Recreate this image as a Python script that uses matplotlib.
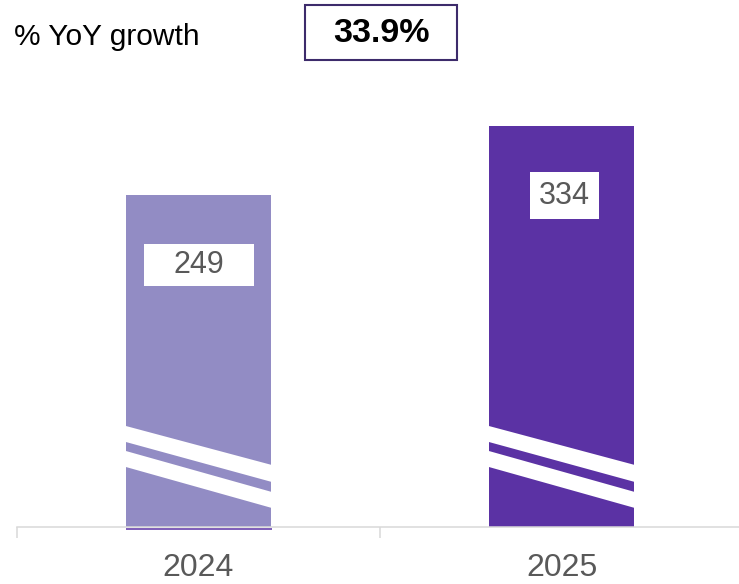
import matplotlib
matplotlib.use("Agg")
import matplotlib.pyplot as plt
import matplotlib.transforms as mtransforms
from matplotlib.patches import Polygon, Rectangle
import numpy as np

plt.rcParams["font.family"] = ["Liberation Sans", "DejaVu Sans"]

# Data
years = ["2024", "2025"]
values = [249, 334]
value_labels = ["249", "334"]
growth_label = "% YoY growth"
growth_value = "33.9%"

# Styling
bar_colors = ["#928cc4", "#5b32a4"]
label_box_sizes = [(1.10, 0.42), (0.69, 0.47)]  # inches (w, h)
axis_floor = -160          # broken axis: bars start below zero
axis_top = 366
grey = "#d9d9d9"
text_grey = "#595959"

fig = plt.figure(figsize=(7.39, 5.84), dpi=100)
ax = fig.add_axes([17 / 739, 57 / 584, 726 / 739, 427 / 584])

x = np.arange(len(years))
bar_w = 0.4
heights = [v - axis_floor for v in values]
ax.bar(x, heights, bottom=axis_floor, width=bar_w, color=bar_colors, zorder=2)

ax.set_xlim(-0.5, 1.5)
ax.set_ylim(axis_floor, axis_top)

for s in ["top", "right", "left"]:
    ax.spines[s].set_visible(False)
ax.spines["bottom"].set_color(grey)
ax.spines["bottom"].set_linewidth(1.1)
ax.spines["bottom"].set_zorder(3)
ax.set_yticks([])

ax.set_xticks(x)
ax.set_xticklabels(years, fontsize=23, color=text_grey)
ax.tick_params(axis="x", which="major", length=0, pad=19)
ax.set_xticks([-0.5, 0.5, 1.5], minor=True)
ax.tick_params(axis="x", which="minor", length=8, width=1.1, color=grey)

# Broken-axis stripes across each bar (inches from the bar's bottom-left corner)
bw_in = 1.46
stripes = [
    [(0, 1.01), (bw_in, 0.62), (bw_in, 0.45), (0, 0.85)],
    [(0, 0.76), (bw_in, 0.35), (bw_in, 0.19), (0, 0.60)],
]
for xi in x:
    trans = fig.dpi_scale_trans + mtransforms.ScaledTranslation(
        xi - bar_w / 2, axis_floor, ax.transData)
    for poly in stripes:
        ax.add_patch(Polygon(poly, closed=True, facecolor="white",
                             edgecolor="none", transform=trans, zorder=3,
                             clip_on=False))

# thin dark rule under the first bar
trans0 = fig.dpi_scale_trans + mtransforms.ScaledTranslation(
    x[0] - bar_w / 2, axis_floor, ax.transData)
ax.plot([0, bw_in], [-0.024, -0.024], color=bar_colors[1], lw=1.1,
        transform=trans0, zorder=4, clip_on=False, solid_capstyle="butt")

# Value labels in white boxes
label_dx = [0.0, 0.03]  # inches
for xi, v, lab, (bw, bh), dx in zip(x, values, value_labels, label_box_sizes, label_dx):
    trans = fig.dpi_scale_trans + mtransforms.ScaledTranslation(xi, v, ax.transData)
    cy = -0.70
    ax.add_patch(Rectangle((dx - bw / 2, cy - bh / 2), bw, bh, facecolor="white",
                           edgecolor="none", transform=trans, zorder=4))
    ax.text(dx, cy, lab, transform=trans, ha="center", va="center",
            fontsize=22, color=text_grey, zorder=5)

# Header: growth caption and boxed value
fig.text(14 / 739, 1 - 45 / 584, growth_label, fontsize=21.5, color="black",
         ha="left", va="baseline")
fig.patches.append(Rectangle((305 / 739, 1 - 60 / 584), 152 / 739, 55 / 584,
                             transform=fig.transFigure, facecolor="white",
                             edgecolor="#3d2b6b", linewidth=1.5))
fig.text(381 / 739, 1 - 42 / 584, growth_value, fontsize=24.5, fontweight="bold",
         color="black", ha="center", va="baseline")

fig.savefig("out.png", dpi=100)
